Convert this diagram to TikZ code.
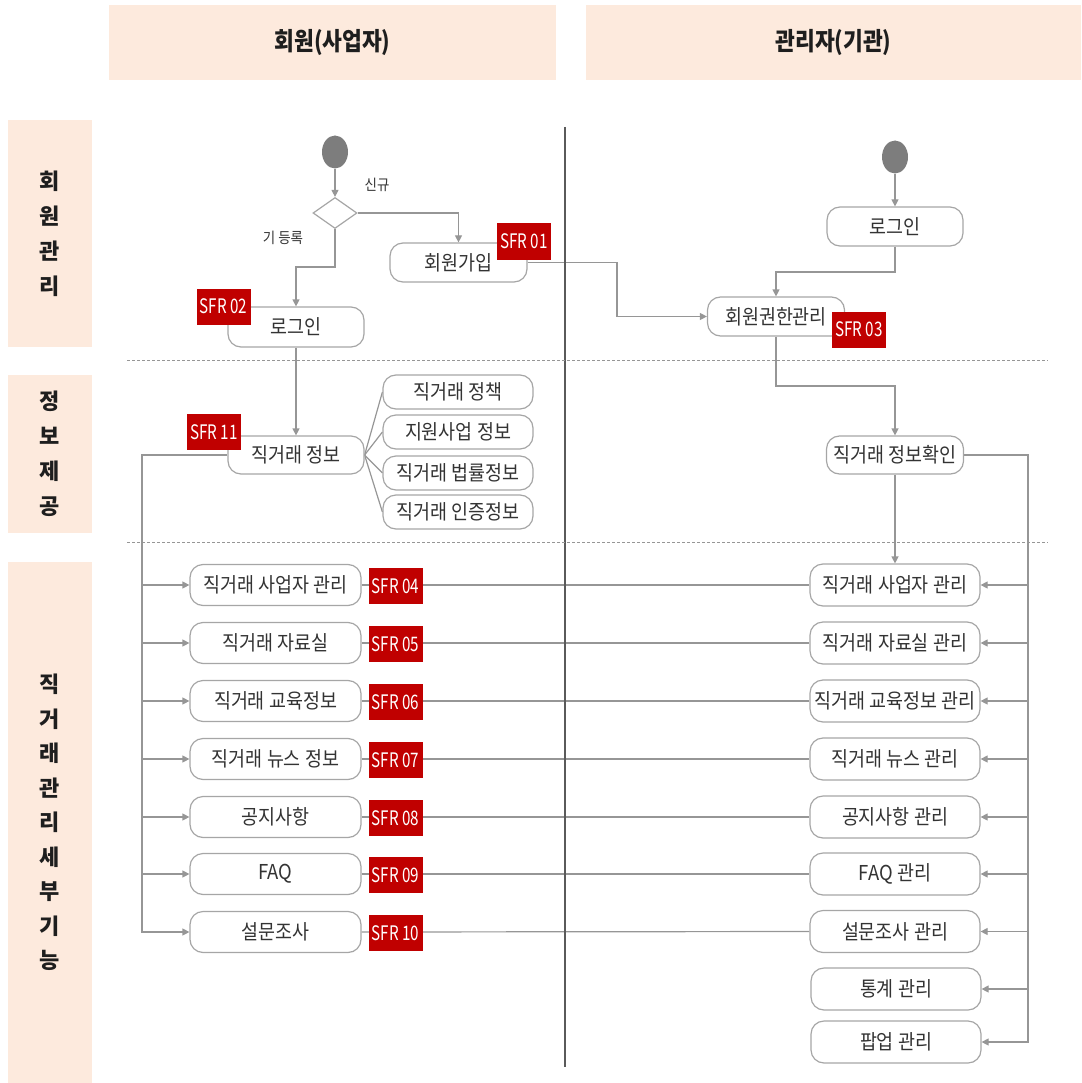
\documentclass[tikz,border=0pt]{standalone}
\usepackage{fontspec}
\usetikzlibrary{arrows.meta,shapes.geometric,backgrounds}
\newfontfamily\kr[FakeStretch=0.9]{Noto Sans CJK KR}
\newfontfamily\krt[FakeStretch=0.76]{Noto Sans CJK KR}
\newfontfamily\krc[FakeStretch=0.86]{Noto Sans CJK KR}
\newfontfamily\krl{Noto Sans CJK KR}
\definecolor{peach}{RGB}{253,234,221}
\definecolor{tagred}{RGB}{192,0,0}
\definecolor{boxc}{RGB}{166,166,166}
\definecolor{linec}{RGB}{150,150,150}
\definecolor{divc}{RGB}{90,90,90}
\definecolor{txt}{RGB}{51,51,51}
\definecolor{hdrtxt}{RGB}{30,30,30}
\definecolor{startc}{RGB}{125,125,125}
\begin{document}
\begin{tikzpicture}[x=1pt,y=-1pt,
  hdr/.style={fill=peach, inner sep=0pt, text=hdrtxt, font={\krc\bfseries\fontsize{25}{28}\selectfont}},
  lane/.style={fill=peach, inner sep=0pt, minimum width=84pt, text=hdrtxt, align=center, font={\krl\bfseries\fontsize{22}{35}\selectfont}},
  box/.style={draw=boxc, line width=1.2pt, rounded corners=13pt, fill=white, inner sep=0pt, text=txt, font={\kr\fontsize{20.5}{23}\selectfont}},
  lbox/.style={box, minimum width=171pt, minimum height=41pt},
  rbox/.style={box, minimum width=170pt, minimum height=42pt},
  sbox/.style={box, minimum width=150pt, minimum height=34pt},
  tag/.style={fill=tagred, inner sep=0pt, minimum width=54pt, minimum height=36pt, text=white, font={\krt\fontsize{20}{22}\selectfont}},
  lbl/.style={inner sep=0pt, text=txt, font={\kr\fontsize{15}{17}\selectfont}},
  startnode/.style={ellipse, fill=startc, minimum width=26pt, minimum height=33pt, inner sep=0pt},
  ln/.style={draw=linec, line width=1.2pt},
  arr/.style={ln, -{Triangle[length=7pt,width=7pt]}, color=linec},
]
\useasboundingbox (0,0) rectangle (1081,1083);

% headers
\node[hdr, minimum width=447pt, minimum height=75pt] (hL) at (332.5,42.5) {회원(사업자)};
\node[hdr, minimum width=495pt, minimum height=75pt] (hR) at (833.5,42.5) {관리자(기관)};

% lanes
\node[lane, minimum height=227pt] (la) at (50,233.5) {회\\원\\관\\리};
\node[lane, minimum height=158pt] (lb) at (50,454) {정\\보\\제\\공};
\node[lane, minimum height=521pt, font={\krl\bfseries\fontsize{22}{34.5}\selectfont}] (lc) at (50,822.5) {직\\거\\래\\관\\리\\세\\부\\기\\능};

% separators
\draw[divc, line width=1.3pt] (565,127) -- (565,1067);
\draw[linec, line width=0.9pt, dash pattern=on 3pt off 2pt] (127,360) -- (1048,360);
\draw[linec, line width=0.9pt, dash pattern=on 3pt off 2pt] (127,542) -- (1048,542);

% left lane top
\node[startnode] (stL) at (335,152) {};
\node[diamond, draw=boxc, line width=1.2pt, fill=white, minimum width=44pt, minimum height=31pt, inner sep=0pt] (dia) at (335,213) {};
\node[lbl] (new) at (377,185) {신규};
\node[lbl] (reg) at (283,238) {기 등록};
\node[box, minimum width=137pt, minimum height=39pt] (join) at (458.5,262.5) {회원가입};
\node[box, minimum width=136pt, minimum height=40pt] (login1) at (296,327) {로그인};
\node[box, minimum width=136pt, minimum height=38pt] (info) at (296,455) {직거래 정보};
\node[sbox] (s1) at (458,392) {직거래 정책};
\node[sbox] (s2) at (458,432) {지원사업 정보};
\node[sbox] (s3) at (458,473) {직거래 법률정보};
\node[sbox] (s4) at (458,512) {직거래 인증정보};

% right lane top
\node[startnode] (stR) at (895,157) {};
\node[box, minimum width=136pt, minimum height=39pt] (loginR) at (895,226.5) {로그인};
\node[box, minimum width=137pt, minimum height=39pt] (perm) at (776,316.5) {회원권한관리};
\node[box, minimum width=137pt, minimum height=38pt] (chk) at (895,455) {직거래 정보확인};

% rows
\node[lbox] (l1) at (275.5,585) {직거래 사업자 관리};
\node[lbox] (l2) at (275.5,643) {직거래 자료실};
\node[lbox] (l3) at (275.5,701) {직거래 교육정보};
\node[lbox] (l4) at (275.5,759) {직거래 뉴스 정보};
\node[lbox] (l5) at (275.5,817) {공지사항};
\node[lbox] (l6) at (275.5,874) {FAQ};
\node[lbox] (l7) at (275.5,932) {설문조사};

\node[rbox] (r1) at (895,585) {직거래 사업자 관리};
\node[rbox] (r2) at (895,643) {직거래 자료실 관리};
\node[rbox] (r3) at (895,701) {직거래 교육정보 관리};
\node[rbox] (r4) at (895,759) {직거래 뉴스 관리};
\node[rbox] (r5) at (895,817) {공지사항 관리};
\node[rbox] (r6) at (895,874) {FAQ 관리};
\node[rbox] (r7) at (895,931.5) {설문조사 관리};
\node[rbox] (r8) at (896,989) {통계 관리};
\node[rbox] (r9) at (896,1042) {팝업 관리};

% tags
\node[tag] (t01) at (524,241.5) {SFR 01};
\node[tag] (t02) at (223.5,306.5) {SFR 02};
\node[tag] (t03) at (859,329.5) {SFR 03};
\node[tag] (t11) at (214,432) {SFR 11};
\node[tag] (t04) at (395.5,586) {SFR 04};
\node[tag] (t05) at (395.5,644) {SFR 05};
\node[tag] (t06) at (395.5,702) {SFR 06};
\node[tag] (t07) at (395.5,760) {SFR 07};
\node[tag] (t08) at (395.5,818) {SFR 08};
\node[tag] (t09) at (395.5,875) {SFR 09};
\node[tag] (t10) at (395.5,933) {SFR 10};

% connectors
\coordinate (k0) at (0,267);
\coordinate (k1) at (0,272);
\coordinate (k2) at (617,0);
\coordinate (k3) at (0,386);
\coordinate (tl) at (142,932);
\coordinate (tr) at (1028,1042);
\begin{scope}[on background layer]
  \draw[arr] (stL) -- (dia);
  \draw[arr] (dia.east) -| (join.north);
  \draw[arr] (dia.south) -- (dia.south |- k0) -| (login1.north);
  \draw[arr] (login1) -- (info);
  \foreach \s in {s1,s2,s3,s4} \draw[ln] (info.east) -- (\s.west);
  \draw[arr] (info.west) -| (tl) -- (l7.west);
  \foreach \r in {l1,l2,l3,l4,l5,l6} \draw[arr] (tl |- \r.west) -- (\r.west);
  \draw[ln] (l1.east) -- (r1.west);
  \draw[ln] (l2.east) -- (r2.west);
  \draw[ln] (l3.east) -- (r3.west);
  \draw[ln] (l4.east) -- (r4.west);
  \draw[ln] (l5.east) -- (r5.west);
  \draw[ln] (l6.east) -- (r6.west);
  \draw[ln] (l7.east) -- (r7.west);
  \draw[arr] (stR) -- (loginR);
  \draw[arr] (loginR.south) -- (loginR.south |- k1) -| (perm.north);
  \draw[arr] (join.east) -| (k2 |- perm.west) -- (perm.west);
  \draw[arr] (perm.south) -- (perm.south |- k3) -| (chk.north);
  \draw[arr] (chk) -- (r1);
  \draw[arr] (chk.east) -| (tr) -- (r9.east);
  \foreach \r in {r1,r2,r3,r4,r5,r6,r7,r8} \draw[arr] (tr |- \r.east) -- (\r.east);
\end{scope}
\end{tikzpicture}
\end{document}
